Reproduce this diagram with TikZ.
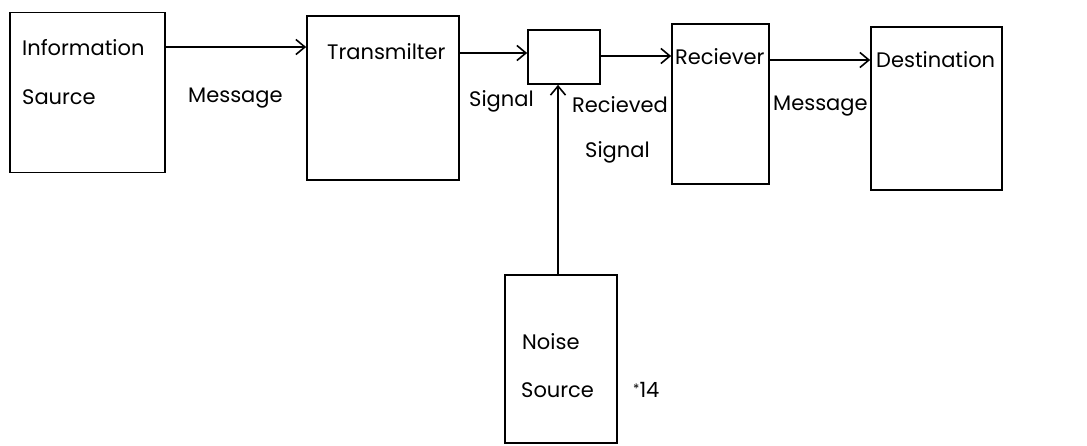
\documentclass[tikz,border=0pt]{standalone}
\usepackage{fontspec}
\setmainfont{Poppins}
\usetikzlibrary{arrows.meta}
\begin{document}
\begin{tikzpicture}[x=1pt,y=-1pt,
  box/.style={draw, line width=1.7pt, inner sep=0pt},
  lbl/.style={inner sep=0pt, anchor=west, font=\fontsize{21}{24}\selectfont},
  arr/.style={line width=1.6pt, -{Straight Barb[length=9pt,width=15pt,line width=1.6pt]}}]
\useasboundingbox (0,0) rectangle (1087,445);
% boxes
\node[box, minimum width=155pt, minimum height=160pt] (src) at (87.5,92.5) {};
\node[box, minimum width=152pt, minimum height=164pt] (tx) at (383,98) {};
\node[box, minimum width=72pt, minimum height=54pt] (ch) at (564,57) {};
\node[box, minimum width=97pt, minimum height=160pt] (rx) at (720.5,104) {};
\node[box, minimum width=131pt, minimum height=163pt] (dst) at (936.5,108.5) {};
\node[box, minimum width=112pt, minimum height=168pt] (ns) at (561,359) {};
% texts
\node[lbl] (t1) at (22,48) {Information};
\node[lbl] (t2) at (22,97) {Saurce};
\node[lbl] (t3) at (188,98) {Message};
\node[lbl] (t4) at (327,52) {Transmilter};
\node[lbl] (t5) at (469,101) {Signal};
\node[lbl] (t6) at (572,105) {Recieved};
\node[lbl] (t7) at (585,152) {Signal};
\node[lbl] (t8) at (675,57) {Reciever};
\node[lbl] (t9) at (773,106) {Message};
\node[lbl] (t10) at (876,60) {Destination};
\node[lbl] (t11) at (522,342) {Noise};
\node[lbl] (t12) at (521,390) {Source};
\node[lbl] (t13) at (633,390) {\raisebox{4pt}{\fontsize{13}{13}\selectfont *}14};
% connectors
\draw[arr] (src.east |- 0,47) -- (tx.west |- 0,47);
\draw[arr] (tx.east |- 0,53) -- (ch.west |- 0,53);
\draw[arr] (ch.east |- 0,56) -- (rx.west |- 0,56);
\draw[arr] (rx.east |- 0,60) -- (dst.west |- 0,60);
\draw[arr] (ns.north -| 558,0) -- (ch.south -| 558,0);
\end{tikzpicture}
\end{document}
